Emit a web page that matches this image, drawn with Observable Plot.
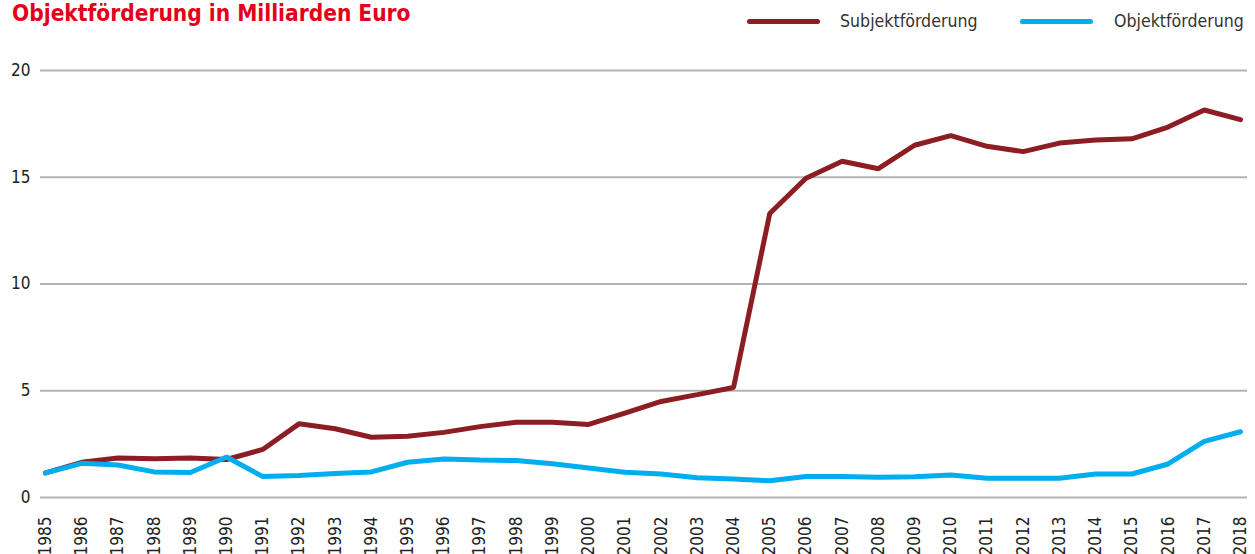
<!DOCTYPE html>
<html>
<head>
<meta charset="utf-8">
<script src="https://cdn.jsdelivr.net/npm/d3@7"></script>
<script src="https://cdn.jsdelivr.net/npm/@observablehq/plot@0.6"></script>
<style>
  html, body { margin: 0; padding: 0; background: #fff; overflow: hidden; }
  #wrap { position: relative; width: 1255px; height: 554px; overflow: hidden; font-family: "DejaVu Sans Condensed", "Liberation Sans", sans-serif; }
  #title { position: absolute; left: 12px; top: 1px; font-size: 22.5px; line-height: 24px; font-weight: bold; color: #E3001B; white-space: nowrap; }
  .leg { position: absolute; top: 9px; font-size: 17.6px; line-height: 24px; color: #333; white-space: nowrap; }
  .sw { position: absolute; top: 19px; width: 73px; height: 5px; border-radius: 3px; }
  #chart { position: absolute; left: 0; top: 0; }
</style>
</head>
<body>
<div id="wrap">
  <div id="chart"></div>
  <div id="title">Objektförderung in Milliarden Euro</div>
  <div class="sw" style="left:747px;background:#8C1D22"></div>
  <div class="leg" style="left:840px">Subjektförderung</div>
  <div class="sw" style="left:1020px;background:#00AEEF"></div>
  <div class="leg" style="left:1114px">Objektförderung</div>
</div>
<script>
const years = [1985,1986,1987,1988,1989,1990,1991,1992,1993,1994,1995,1996,1997,1998,1999,2000,2001,2002,2003,2004,2005,2006,2007,2008,2009,2010,2011,2012,2013,2014,2015,2016,2017,2018];
const subjekt = [1.15,1.65,1.85,1.82,1.85,1.78,2.25,3.45,3.22,2.82,2.87,3.05,3.32,3.52,3.52,3.42,3.95,4.5,4.82,5.15,13.3,14.95,15.75,15.4,16.5,16.95,16.45,16.2,16.6,16.75,16.8,17.35,18.15,17.7];
const objekt = [1.15,1.6,1.52,1.2,1.17,1.9,0.98,1.03,1.12,1.2,1.65,1.8,1.76,1.73,1.58,1.38,1.18,1.1,0.92,0.87,0.78,0.98,0.98,0.95,0.97,1.05,0.9,0.9,0.9,1.1,1.1,1.57,2.63,3.08];
const yTicks = [0,5,10,15,20];
const seriesNames = ["Subjektförderung","Objektförderung"];
const seriesColors = ["#8C1D22","#00AEEF"];

const rows = [];
years.forEach((y,i) => rows.push({year: y, value: subjekt[i], series: seriesNames[0]}));
years.forEach((y,i) => rows.push({year: y, value: objekt[i], series: seriesNames[1]}));

const font = '"DejaVu Sans Condensed", "Liberation Sans", sans-serif';
const chart = Plot.plot({
  width: 1255,
  height: 554,
  marginLeft: 45,
  marginRight: 15,
  marginTop: 70,
  marginBottom: 57,
  style: {fontFamily: font, fontSize: "17px", color: "#222", background: "transparent"},
  x: {domain: [1985, 2018]},
  y: {domain: [0, 20]},
  color: {domain: seriesNames, range: seriesColors},
  marks: [
    Plot.ruleY(yTicks, {stroke: "#b3b3b3", strokeWidth: 2, insetLeft: -5, insetRight: -7}),
    Plot.axisY({ticks: yTicks, tickSize: 0, tickPadding: 15, label: null, fontSize: 17}),
    Plot.axisX({ticks: years, tickFormat: d => String(d), tickSize: 0, tickPadding: 19, tickRotate: -90, label: null, fontSize: 17}),
    Plot.lineY(rows, {x: "year", y: "value", z: "series", stroke: "series", strokeWidth: 5, strokeLinejoin: "miter", strokeLinecap: "round"})
  ]
});
document.getElementById("chart").appendChild(chart);
</script>
</body>
</html>
